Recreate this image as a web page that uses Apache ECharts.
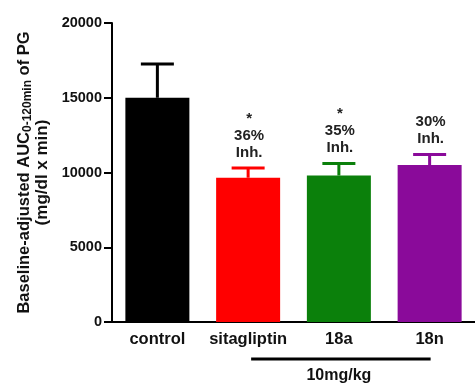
<!DOCTYPE html>
<html><head><meta charset="utf-8">
<script src="https://cdn.jsdelivr.net/npm/echarts@6/dist/echarts.min.js"></script>
<style>html,body{margin:0;padding:0;background:#fff}#c{width:475px;height:383px}</style>
</head><body><div id="c"></div>
<script>
const categories = ['control', 'sitagliptin', '18a', '18n'];
const means = [15000, 9650, 9800, 10500];
const upper = [17250, 10300, 10600, 11200];
const stars = ['', '*', '*', ''];
const inhibition = ['', '36%', '35%', '30%'];
const colors = ['#000000', '#ff0000', '#0b800b', '#8a0a9a'];
const yTicks = [0, 5000, 10000, 15000, 20000];
const doseLabel = '10mg/kg';

const FONT = '"Liberation Sans", Arial, sans-serif';
const chart = echarts.init(document.getElementById('c'), null, {renderer: 'canvas'});

const option = {
  animation: false,
  backgroundColor: '#fff',
  grid: {left: 112, top: 23, width: 367, bottom: 61, containLabel: false},
  xAxis: {
    type: 'category', data: categories,
    axisLine: {lineStyle: {color: '#000', width: 2}},
    axisTick: {alignWithLabel: true, length: 5, lineStyle: {color: '#000', width: 2}},
    axisLabel: {interval: 0, color: '#111', fontFamily: FONT, fontWeight: 'bold', fontSize: 16.5, margin: 9}
  },
  yAxis: {
    type: 'value', min: yTicks[0], max: yTicks[yTicks.length - 1], interval: 5000,
    splitLine: {show: false},
    axisLine: {show: true, lineStyle: {color: '#000', width: 2}},
    axisTick: {show: true, length: 8, lineStyle: {color: '#000', width: 2}},
    axisLabel: {color: '#111', fontFamily: FONT, fontWeight: 'bold', fontSize: 14.5, margin: 10,
      formatter: function (v) { return String(v); }},
    name: '{a|Baseline-adjusted AUC}{s|0-120min}{a| of PG}\n{b|(mg/dl x min)}',
    nameLocation: 'middle', nameRotate: 90, nameGap: 55.5,
    nameTextStyle: {
      align: 'center',
      rich: {
        a: {fontFamily: FONT, fontSize: 16.5, fontWeight: 'bold', color: '#111', lineHeight: 18},
        s: {fontFamily: FONT, fontSize: 12, fontWeight: 'bold', color: '#111', lineHeight: 18, verticalAlign: 'bottom'},
        b: {fontFamily: FONT, fontSize: 17, fontWeight: 'bold', color: '#111', lineHeight: 18}
      }
    }
  },
  series: [
    {
      type: 'bar', barWidth: 64,
      data: means.map((v, i) => ({value: v, itemStyle: {color: colors[i]}}))
    },
    {
      type: 'custom', z: 3,
      data: categories.map((c, i) => [i, means[i], upper[i]]),
      renderItem: function (params, api) {
        const i = params.dataIndex;
        const base = api.coord([api.value(0), api.value(1)]);
        const top = api.coord([api.value(0), api.value(2)]);
        const col = colors[i];
        const children = [
          {type: 'line', shape: {x1: base[0], y1: base[1], x2: base[0], y2: top[1]}, style: {stroke: col, lineWidth: 3}},
          {type: 'line', shape: {x1: base[0] - 16.5, y1: top[1], x2: base[0] + 16.5, y2: top[1]}, style: {stroke: col, lineWidth: 3}}
        ];
        const lines = [];
        if (stars[i]) lines.push(stars[i]);
        if (inhibition[i]) { lines.push(inhibition[i]); lines.push('Inh.'); }
        if (lines.length) {
          children.push({
            type: 'text',
            style: {
              text: lines.join('\n'), x: base[0] + 1, y: top[1] - 7,
              textAlign: 'center', textVerticalAlign: 'bottom',
              font: 'bold 15px ' + FONT, lineHeight: 17, fill: '#222'
            }
          });
        }
        return {type: 'group', children: children};
      }
    }
  ]
};
chart.setOption(option);

// dose bracket below sitagliptin..18n
const p1 = chart.convertToPixel({xAxisIndex: 0}, categories[1]);
const p2 = chart.convertToPixel({xAxisIndex: 0}, categories[3]);
const y0 = chart.convertToPixel({yAxisIndex: 0}, 0);
chart.setOption({
  graphic: [
    {type: 'line', shape: {x1: p1 + 3, y1: y0 + 37, x2: p2 + 1, y2: y0 + 37}, style: {stroke: '#000', lineWidth: 3}},
    {type: 'text', style: {text: doseLabel, x: (p1 + p2) / 2, y: y0 + 54, textAlign: 'center', textVerticalAlign: 'middle', font: 'bold 16px ' + FONT, fill: '#111'}}
  ]
});
</script>
</body></html>
